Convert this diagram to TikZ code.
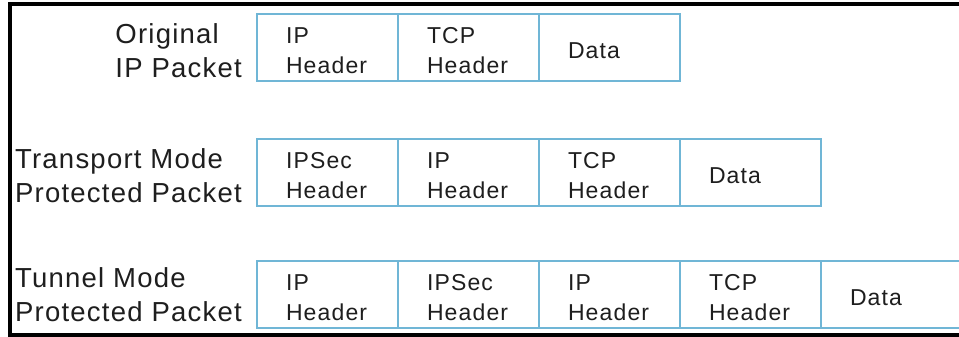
\documentclass[tikz,border=0pt]{standalone}
\usepackage{fontspec}
\setmainfont{Liberation Sans}
\newfontfamily\cellfont[LetterSpace=5]{Liberation Sans}
\newfontfamily\rowfont[LetterSpace=4.5]{Liberation Sans}
\usetikzlibrary{positioning}
\definecolor{cellblue}{RGB}{112,182,214}
\definecolor{inkgray}{RGB}{30,30,30}

\tikzset{
  field/.style={draw=cellblue, line width=1.5pt, text=inkgray, text width=83pt,
    inner xsep=29pt, minimum height=67pt, align=left, outer sep=0pt,
    text height=22pt, font=\cellfont\fontsize{23}{29.5}\selectfont},
  rowlabel/.style={text=inkgray, inner sep=0pt, align=left,
    font=\rowfont\fontsize{27.5}{33.5}\selectfont},
}

\begin{document}
\begin{tikzpicture}[x=1pt, y=-1pt]
  \useasboundingbox[fill=white] (0,0) rectangle (959,337);
  \clip (0,0) rectangle (959,337);
  % Frame
  \draw[line width=4pt] (965,4) -| (10,335) -- (965,335);

  % Original packet
  \node[field, anchor=north west] (origIP) at (257,14) {IP\\Header};
  \node[field, right=0pt of origIP] (origTCP) {TCP\\Header};
  \node[field, right=0pt of origTCP] (origData) {Data};
  \node[rowlabel, left=15pt of origIP, yshift=-3pt] (origLabel) {Original\\IP Packet};

  % Transport mode
  \node[field, anchor=north west] (trIPSec) at (257,139) {IPSec\\Header};
  \node[field, right=0pt of trIPSec] (trIP) {IP\\Header};
  \node[field, right=0pt of trIP] (trTCP) {TCP\\Header};
  \node[field, right=0pt of trTCP] (trData) {Data};
  \node[rowlabel, left=15pt of trIPSec, yshift=-3pt] (trLabel) {Transport Mode\\Protected Packet};

  % Tunnel mode (last field runs past the edge)
  \node[field, anchor=north west] (tuIP) at (257,261) {IP\\Header};
  \node[field, right=0pt of tuIP] (tuIPSec) {IPSec\\Header};
  \node[field, right=0pt of tuIPSec] (tuInnerIP) {IP\\Header};
  \node[field, right=0pt of tuInnerIP] (tuTCP) {TCP\\Header};
  \node[field, right=0pt of tuTCP, text width=120pt] (tuData) {Data};
  \node[rowlabel, left=15pt of tuIP] (tuLabel) {Tunnel Mode\\Protected Packet};
\end{tikzpicture}
\end{document}
